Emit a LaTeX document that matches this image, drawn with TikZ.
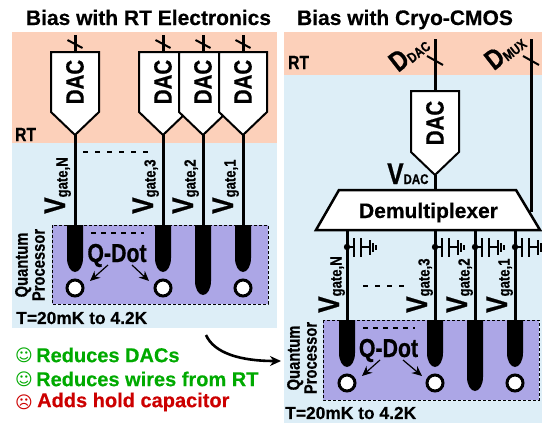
\documentclass[tikz,border=0pt]{standalone}
\usepackage{fontspec}
\setmainfont{Liberation Sans}[BoldFeatures={FakeBold=0.4}]
\newfontfamily\symfont{DejaVu Sans}
\newfontfamily\narrowfont[FakeStretch=0.82,BoldFeatures={FakeBold=0.6}]{Liberation Sans}
\usepackage{xcolor}
\usetikzlibrary{positioning, arrows.meta, shapes.geometric}
\definecolor{rtpink}{RGB}{252,208,186}
\definecolor{coldblue}{RGB}{221,238,247}
\definecolor{procpurple}{RGB}{172,166,230}
\definecolor{goodgreen}{RGB}{0,170,0}
\definecolor{badred}{RGB}{204,0,0}

\newcommand{\subtxt}[3][16]{\raisebox{-#2pt}{\fontsize{#1}{#1}\selectfont #3}}

\begin{document}
\begin{tikzpicture}[x=1pt,y=-1pt,
  title/.style={anchor=base, inner sep=0pt, font=\bfseries\fontsize{21}{21}\selectfont},
  zone/.style={anchor=base west, inner sep=0pt, font=\narrowfont\bfseries\fontsize{19}{19}\selectfont},
  wire/.style={line width=3pt},
  slash/.style={line width=2pt},
  dacbox/.style={draw, line width=2pt, fill=white},
  dactext/.style={rotate=90, inner sep=0pt, font=\narrowfont\bfseries\fontsize{25}{25}\selectfont},
  proc/.style={draw, dash pattern=on 3pt off 2pt, line width=1pt, fill=procpurple},
  dot/.style={draw, line width=3pt, fill=white, circle, inner sep=0pt, minimum size=16pt},
  gatelabel/.style={rotate=90, anchor=base west, inner sep=0pt, font=\narrowfont\bfseries\fontsize{30}{30}\selectfont},
  diglabel/.style={rotate=38, inner sep=0pt, font=\narrowfont\bfseries\fontsize{28}{28}\selectfont},
  qdot/.style={anchor=base, inner sep=0pt, font=\narrowfont\bfseries\fontsize{26}{26}\selectfont},
  procname/.style={rotate=90, align=center, inner sep=0pt, font=\narrowfont\bfseries\fontsize{18}{17}\selectfont},
  temp/.style={anchor=west, inner sep=0pt, font=\bfseries\fontsize{17.4}{17.4}\selectfont},
  note/.style={anchor=west, inner sep=0pt, font=\bfseries\fontsize{20}{20}\selectfont},
  face/.style={inner sep=0pt, font=\symfont\fontsize{17}{17}\selectfont},
  dots/.style={dash pattern=on 5pt off 7pt, line width=1.5pt},
  dotsb/.style={dash pattern=on 5pt off 5pt, line width=1.5pt},
  arr/.style={-{Stealth[length=10pt,width=9pt]}, line width=1.2pt}]
  \useasboundingbox (0,0) rectangle (542,423);

  % left panel
  \fill[rtpink] (12,32) rectangle (277,143);
  \fill[coldblue] (12,143) rectangle (277,328);
  \node[title] (titleL) at (148.5,25) {Bias with RT Electronics};
  \node[zone] (rtL) at (15,141) {RT};

  \draw[proc] (52,225) rectangle (268,304);
  \foreach \x/\tag/\ybot in {75/N/272, 163/3/272, 243/1/272, 203/2/295} {
    \coordinate (inL\tag) at (\x,35);
    \coordinate (gateL\tag) at (\x,225);
    \fill (\x-8,225) -- (\x-8,\ybot-14) arc[start angle=180,end angle=360,x radius=8pt,y radius=14pt] -- (\x+8,225) -- cycle;
  }
  \foreach \x/\tag in {75/N, 163/3, 203/2, 243/1} {
    \draw[wire] (inL\tag) -- (gateL\tag);
    \draw[slash] (\x-7.5,40) -- (\x+7.5,48);
    \draw[dacbox] (\x-24,52) -- (\x+24,52) -- (\x+24,112) -- (\x,135) -- (\x-24,112) -- cycle;
    \node[dactext] (dacL\tag) at (\x,82) {DAC};
    \node[gatelabel] (vL\tag) at (\x-10,214) {V\subtxt{2.5}{gate,\tag}};
  }
  \foreach \x in {75, 163, 243} \node[dot] (qdL\x) at (\x,288) {};
  \draw[dots] (83,152) -- (148,152);
  \draw[dotsb] (91,233) -- (144,233);
  \node[qdot] (qdotL) at (117,262) {Q-Dot};
  \coordinate (tailL1) at (108,265);
  \coordinate (tipL1) at (90,281);
  \coordinate (tailL2) at (132,265);
  \coordinate (tipL2) at (149,281);
  \draw[arr] (tailL1) -- (tipL1);
  \draw[arr] (tailL2) -- (tipL2);
  \node[procname] (procL) at (30,265) {Quantum\\Processor};
  \node[temp] (tempL) at (16,318) {T=20mK to 4.2K};

  % notes
  \node[face, text=goodgreen] (f1) at (24,355) {☺};
  \node[face, text=goodgreen] (f2) at (24,379) {☺};
  \node[face, text=badred] (f3) at (24,402) {☹};
  \node[note, text=goodgreen] (n1) at (36,355) {Reduces DACs};
  \node[note, text=goodgreen] (n2) at (36,379) {Reduces wires from RT};
  \node[note, text=badred] (n3) at (37,402) {Adds hold capacitor};
  \coordinate (bendA) at (206,335);
  \coordinate (bendB) at (281,361);
  \draw[-{Stealth[length=11pt,width=10pt]}, line width=2.6pt] (bendA) .. controls (214,353) and (240,361) .. (bendB);

  % right panel
  \fill[rtpink] (284,32) rectangle (542,75);
  \fill[coldblue] (284,75) rectangle (542,423);
  \node[title] (titleR) at (405,25) {Bias with Cryo-CMOS};
  \node[zone] (rtR) at (288,69) {RT};

  \coordinate (inDAC) at (435,39);
  \coordinate (inMUX) at (531,39);
  \coordinate (dacTop) at (435,91);
  \coordinate (muxEdge) at (531,212);
  \draw[wire] (inDAC) -- (dacTop);
  \draw[wire] (inMUX) -- (muxEdge);
  \draw[slash] (427,56) -- (443,65);
  \draw[slash] (523,56) -- (539,65);
  \node[diglabel] (dDAC) at (409,53) {D\subtxt[14]{1}{DAC}};
  \node[diglabel] (dMUX) at (505,51) {D\subtxt[14]{1}{MUX}};
  \draw[dacbox] (411,91) -- (459,91) -- (459,152) -- (435,175) -- (411,152) -- cycle;
  \node[dactext] (dacR) at (435,123) {DAC};
  \node[gatelabel, rotate=-90, anchor=base west] (vDAC) at (387,184) {V\subtxt[14]{0}{DAC}};
  \coordinate (dacTip) at (435,175);
  \coordinate (muxTop) at (435,190);
  \draw[wire] (dacTip) -- (muxTop);
  \draw[line width=2.5pt, fill=white] (339,190) -- (516,190) -- (540,230) -- (316,230) -- cycle;
  \node[anchor=base, inner sep=0pt, font=\bfseries\fontsize{21}{21}\selectfont] (demux) at (428.5,218) {Demultiplexer};

  \draw[proc] (323,320) rectangle (539,400);
  \foreach \x/\tag/\ybot in {347/N/367, 435/3/367, 515/1/367, 475/2/391} {
    \coordinate (muxR\tag) at (\x,230);
    \coordinate (gateR\tag) at (\x,320);
    \fill (\x-8,320) -- (\x-8,\ybot-14) arc[start angle=180,end angle=360,x radius=8pt,y radius=14pt] -- (\x+8,320) -- cycle;
    \draw[wire] (muxR\tag) -- (gateR\tag);
    \fill (\x,247) circle (3.2);
    \draw[line width=1.8pt] (\x,247) -- (\x+7,247);
    \draw[line width=2.2pt] (\x+7,238) -- (\x+7,257);
    \draw[line width=2.2pt] (\x+14,238) -- (\x+14,257);
    \draw[line width=1.8pt] (\x+14,247) -- (\x+23,247);
    \draw[line width=2pt] (\x+23,240) -- (\x+23,255);
    \draw[line width=2pt] (\x+26,243) -- (\x+26,252);
    \draw[line width=2pt] (\x+29,245) -- (\x+29,250);
    \node[gatelabel] (vR\tag) at (\x-8,313) {V\subtxt{2.5}{gate,\tag}};
  }
  \foreach \x in {347, 435, 515} \node[dot] (qdR\x) at (\x,383) {};
  \draw[dots] (363,286) -- (404,286);
  \draw[dotsb] (363,328) -- (415,328);
  \node[qdot] (qdotR) at (388.5,357) {Q-Dot};
  \coordinate (tailR1) at (380,360);
  \coordinate (tipR1) at (362,376);
  \coordinate (tailR2) at (403,360);
  \coordinate (tipR2) at (422,376);
  \draw[arr] (tailR1) -- (tipR1);
  \draw[arr] (tailR2) -- (tipR2);
  \node[procname] (procR) at (302,358) {Quantum\\Processor};
  \node[temp] (tempR) at (285,413) {T=20mK to 4.2K};
\end{tikzpicture}
\end{document}
